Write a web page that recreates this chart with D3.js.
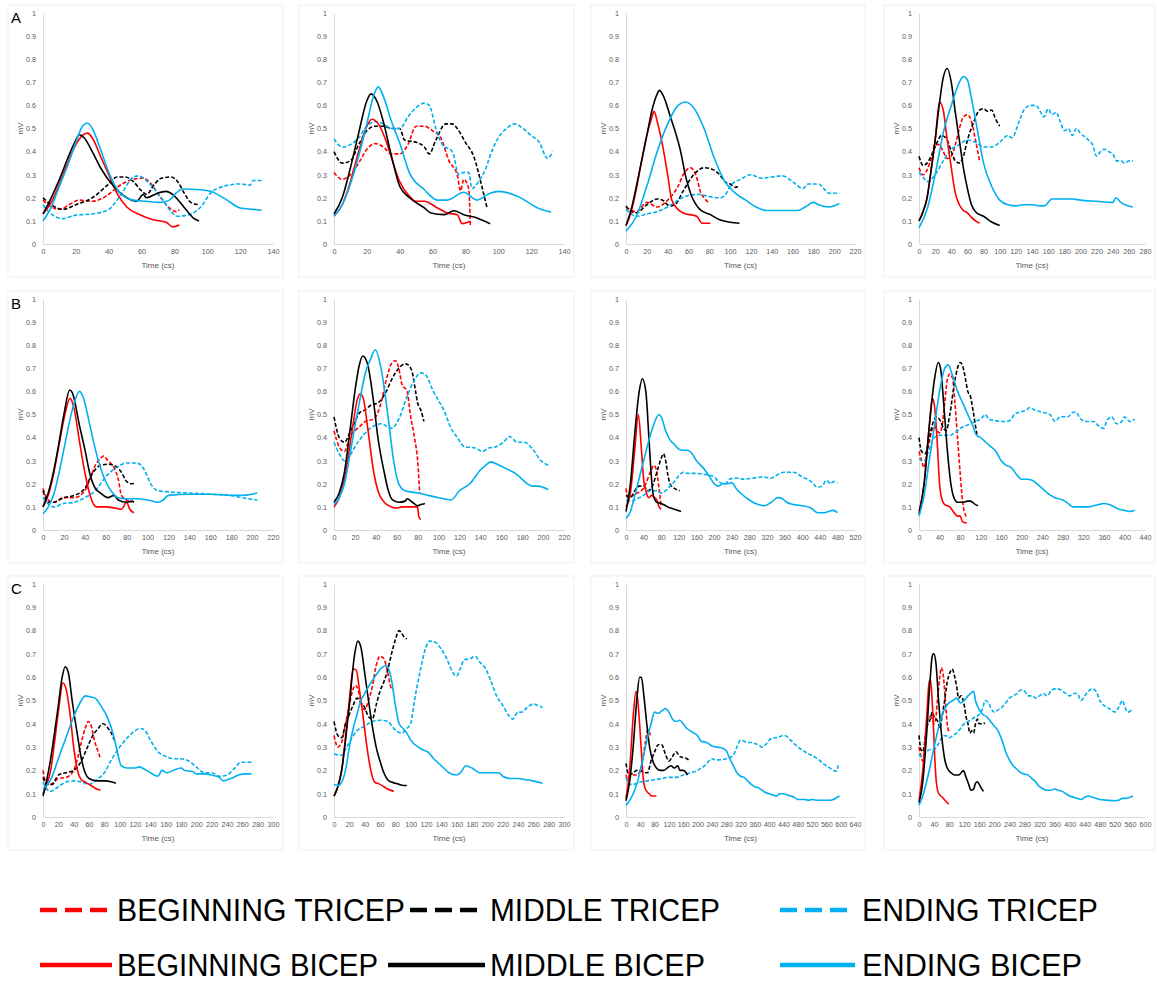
<!DOCTYPE html>
<html>
<head>
<meta charset="utf-8">
<script src="https://cdn.jsdelivr.net/npm/d3@7/dist/d3.min.js"></script>
<style>
  body { margin: 0; background: #fff; }
  svg { display: block; font-family: Arial, "Liberation Sans", sans-serif; }
</style>
</head>
<body>
<div id="chart"></div>
<script>
// series order: beginning tricep, middle tricep, ending tricep, beginning bicep, middle bicep, ending bicep
const seriesNames = ["BEGINNING TRICEP", "MIDDLE TRICEP", "ENDING TRICEP", "BEGINNING BICEP", "MIDDLE BICEP", "ENDING BICEP"];
const yTicks = [0, 0.1, 0.2, 0.3, 0.4, 0.5, 0.6, 0.7, 0.8, 0.9, 1];
const rowLabels = ["A", "B", "C"];
const xMaxes = [[140, 140, 220, 280], [220, 220, 520, 440], [300, 300, 640, 600]];
const xSteps = [[20, 20, 20, 20], [20, 20, 40, 40], [20, 20, 40, 40]];

// ---- row A ----
const a1BegTri = [[0,0.19],[5,0.16],[10,0.15],[16,0.17],[22,0.19],[30,0.185],[38,0.205],[46,0.25],[55,0.28],[61,0.285],[65,0.267],[71,0.206],[77,0.156],[81,0.14],[83,0.148]];
const a1MidTri = [[0,0.2],[5,0.17],[12,0.15],[20,0.17],[30,0.2],[40,0.26],[45,0.29],[50,0.29],[55,0.27],[60,0.23],[63,0.215],[68,0.26],[72,0.285],[78,0.29],[82,0.27],[86,0.22],[90,0.18],[95,0.17]];
const a1EndTri = [[0,0.17],[5,0.13],[12,0.11],[20,0.125],[30,0.13],[40,0.15],[48,0.22],[55,0.29],[58,0.295],[65,0.26],[72,0.2],[78,0.14],[82,0.12],[90,0.13],[96,0.16],[102,0.22],[110,0.25],[120,0.26],[126,0.255],[128,0.275],[133,0.275]];
const a1BegBi = [[0,0.13],[5,0.18],[10,0.26],[15,0.35],[20,0.43],[24,0.47],[27,0.48],[30,0.46],[35,0.38],[40,0.3],[45,0.22],[51,0.16],[59,0.127],[67,0.105],[75,0.094],[79,0.074],[83,0.082]];
const a1MidBi = [[0,0.13],[5,0.2],[10,0.28],[15,0.37],[20,0.45],[22,0.473],[25,0.46],[30,0.4],[35,0.33],[43,0.25],[51,0.2],[57,0.185],[61,0.214],[63,0.2],[69,0.218],[75,0.228],[79,0.214],[87,0.149],[92,0.11],[95,0.1]];
const a1EndBi = [[0,0.1],[5,0.16],[10,0.25],[15,0.34],[20,0.44],[24,0.51],[27,0.524],[30,0.5],[35,0.41],[40,0.31],[47,0.22],[55,0.19],[63,0.185],[71,0.18],[77,0.19],[81,0.22],[85,0.238],[96,0.235],[102,0.228],[112,0.19],[120,0.156],[128,0.15],[133,0.146]];

const a2BegTri = [[0,0.31],[5,0.28],[10,0.3],[15,0.35],[20,0.41],[25,0.435],[30,0.42],[35,0.39],[40,0.39],[45,0.43],[50,0.51],[55,0.51],[60,0.49],[65,0.46],[70,0.36],[75,0.3],[77,0.23],[79,0.28],[82,0.24],[83,0.08]];
const a2MidTri = [[0,0.4],[5,0.35],[10,0.36],[15,0.43],[20,0.49],[25,0.51],[30,0.51],[35,0.5],[40,0.5],[43,0.45],[50,0.44],[55,0.42],[58,0.39],[62,0.45],[68,0.52],[72,0.52],[75,0.5],[80,0.44],[85,0.38],[90,0.25],[93,0.16]];
const a2EndTri = [[0,0.455],[5,0.42],[10,0.43],[15,0.46],[20,0.51],[25,0.53],[30,0.52],[35,0.5],[40,0.5],[45,0.55],[50,0.59],[55,0.61],[58,0.6],[62,0.5],[66,0.43],[72,0.4],[76,0.3],[79,0.31],[82,0.31],[84,0.24],[88,0.27],[92,0.32],[96,0.4],[100,0.46],[105,0.5],[110,0.52],[115,0.5],[120,0.47],[125,0.44],[130,0.37],[133,0.4]];
const a2BegBi = [[0,0.12],[5,0.17],[10,0.27],[15,0.4],[20,0.51],[23,0.54],[27,0.52],[32,0.44],[36,0.35],[40,0.27],[46,0.206],[50,0.185],[55,0.185],[63,0.156],[69,0.134],[75,0.127],[78,0.088],[83,0.098]];
const a2MidBi = [[0,0.13],[5,0.2],[10,0.33],[15,0.48],[20,0.62],[22.5,0.65],[26,0.62],[30,0.53],[35,0.38],[40,0.25],[46,0.2],[55,0.156],[59,0.134],[67,0.127],[73,0.144],[79,0.127],[87,0.113],[95,0.088]];
const a2EndBi = [[0,0.12],[5,0.17],[10,0.26],[15,0.38],[20,0.52],[24,0.64],[27,0.68],[30,0.64],[35,0.53],[40,0.437],[46,0.307],[55,0.235],[63,0.19],[69,0.19],[79,0.224],[87,0.19],[95,0.22],[100,0.228],[112,0.206],[124,0.156],[132,0.138]];

const a3BegTri = [[0,0.16],[10,0.14],[20,0.18],[30,0.16],[40,0.19],[50,0.25],[55,0.3],[62,0.33],[67,0.3],[72,0.22],[75,0.2],[80,0.175]];
const a3MidTri = [[0,0.165],[5,0.14],[10,0.135],[20,0.17],[30,0.195],[35,0.19],[42,0.165],[47,0.17],[55,0.23],[65,0.3],[75,0.33],[82,0.325],[90,0.3],[95,0.27],[100,0.26],[105,0.245],[108,0.25]];
const a3EndTri = [[0,0.15],[10,0.12],[20,0.13],[30,0.14],[40,0.16],[50,0.19],[60,0.21],[70,0.215],[80,0.205],[90,0.2],[95,0.21],[100,0.25],[110,0.28],[120,0.3],[130,0.285],[140,0.29],[150,0.295],[160,0.27],[170,0.24],[175,0.26],[185,0.26],[190,0.24],[195,0.22],[205,0.22]];
const a3BegBi = [[0,0.08],[5,0.14],[10,0.24],[15,0.36],[20,0.47],[25,0.55],[27,0.575],[30,0.53],[35,0.43],[40,0.3],[44,0.19],[50,0.15],[55,0.134],[68,0.12],[73,0.09],[81,0.09]];
const a3MidBi = [[0,0.08],[5,0.15],[10,0.25],[15,0.36],[20,0.47],[25,0.58],[30,0.65],[32,0.665],[36,0.64],[42,0.56],[52,0.41],[58,0.28],[62,0.22],[71,0.15],[81,0.127],[90,0.105],[100,0.094],[109,0.09]];
const a3EndBi = [[0,0.055],[10,0.12],[20,0.25],[30,0.4],[40,0.52],[50,0.6],[57,0.615],[65,0.59],[75,0.5],[85,0.37],[95,0.27],[105,0.22],[115,0.19],[125,0.16],[135,0.145],[150,0.145],[165,0.145],[172,0.16],[180,0.18],[185,0.17],[195,0.16],[205,0.175]];

const a4BegTri = [[0,0.33],[5,0.3],[10,0.32],[15,0.37],[20,0.43],[25,0.43],[30,0.4],[35,0.37],[40,0.38],[45,0.43],[50,0.5],[55,0.55],[60,0.56],[65,0.53],[70,0.45],[75,0.36]];
const a4MidTri = [[0,0.38],[5,0.34],[10,0.35],[15,0.38],[20,0.42],[28,0.47],[35,0.45],[40,0.4],[45,0.36],[50,0.35],[55,0.38],[60,0.45],[68,0.53],[75,0.58],[80,0.585],[85,0.575],[90,0.58],[95,0.54],[100,0.51]];
const a4EndTri = [[0,0.31],[5,0.29],[10,0.27],[20,0.3],[30,0.36],[40,0.41],[50,0.43],[60,0.45],[70,0.44],[80,0.42],[90,0.42],[100,0.44],[110,0.47],[115,0.46],[125,0.54],[130,0.58],[138,0.6],[145,0.6],[150,0.575],[155,0.55],[160,0.585],[165,0.56],[170,0.57],[175,0.53],[180,0.49],[185,0.5],[190,0.47],[195,0.5],[200,0.48],[210,0.45],[215,0.43],[220,0.38],[225,0.4],[230,0.41],[235,0.4],[240,0.39],[245,0.36],[250,0.36],[255,0.35],[260,0.36],[265,0.36]];
const a4BegBi = [[0,0.1],[5,0.14],[10,0.2],[15,0.32],[20,0.45],[25.5,0.615],[30,0.58],[35,0.45],[40,0.33],[45,0.22],[50,0.17],[55,0.145],[60,0.135],[65,0.115],[70,0.1],[75,0.09]];
const a4MidBi = [[0,0.1],[5,0.14],[10,0.2],[15,0.32],[20,0.45],[25,0.6],[30,0.72],[35,0.76],[40,0.7],[45,0.57],[50,0.45],[55,0.33],[60,0.24],[65,0.17],[70,0.14],[80,0.12],[90,0.095],[100,0.08]];
const a4EndBi = [[0,0.07],[10,0.15],[20,0.3],[30,0.48],[40,0.6],[50,0.7],[55,0.725],[60,0.71],[65,0.63],[72,0.5],[80,0.35],[90,0.25],[100,0.19],[110,0.17],[120,0.165],[130,0.17],[140,0.17],[150,0.165],[155,0.165],[165,0.195],[175,0.195],[190,0.195],[200,0.19],[220,0.185],[240,0.18],[244,0.2],[250,0.18],[265,0.16]];

// ---- row B ----
const b1BegTri = [[0,0.18],[5,0.13],[10,0.12],[20,0.14],[30,0.14],[40,0.17],[45,0.22],[50,0.28],[55,0.31],[58,0.32],[62,0.3],[68,0.27],[72,0.22],[75,0.15],[80,0.13],[85,0.12]];
const b1MidTri = [[0,0.17],[5,0.12],[10,0.12],[20,0.14],[30,0.15],[40,0.18],[48,0.25],[55,0.28],[62,0.285],[70,0.275],[75,0.25],[80,0.21],[85,0.2],[88,0.206]];
const b1EndTri = [[0,0.14],[10,0.1],[20,0.115],[30,0.12],[40,0.14],[50,0.17],[60,0.23],[70,0.27],[80,0.29],[90,0.29],[97,0.26],[103,0.2],[110,0.17],[120,0.165],[140,0.16],[160,0.155],[180,0.15],[190,0.14],[205,0.13]];
const b1BegBi = [[0,0.1],[5,0.15],[10,0.24],[15,0.36],[20,0.48],[26,0.57],[30,0.52],[35,0.38],[40,0.25],[45,0.15],[51,0.1],[60,0.1],[70,0.094],[75,0.09],[80,0.12],[83,0.09],[87,0.075]];
const b1MidBi = [[0,0.1],[5,0.16],[10,0.25],[15,0.37],[20,0.5],[25.6,0.606],[28,0.595],[35,0.45],[40,0.35],[45,0.24],[50,0.18],[55,0.16],[62,0.14],[68,0.15],[72,0.13],[80,0.12],[85,0.125],[87,0.12]];
const b1EndBi = [[0,0.07],[5,0.1],[10,0.15],[15,0.24],[20,0.35],[28,0.52],[35,0.6],[38,0.58],[45,0.45],[50,0.35],[55,0.27],[60,0.21],[65,0.17],[72,0.14],[80,0.135],[90,0.135],[100,0.13],[110,0.12],[115,0.13],[120,0.15],[140,0.155],[160,0.155],[180,0.15],[190,0.15],[200,0.155],[205,0.16]];

const b2BegTri = [[0,0.43],[5,0.36],[10,0.34],[15,0.4],[20,0.43],[25,0.45],[30,0.47],[38,0.48],[45,0.55],[50,0.65],[55,0.72],[58.8,0.733],[62,0.7],[65,0.63],[70,0.6],[73,0.5],[77,0.4],[80,0.3],[82,0.16]];
const b2MidTri = [[0,0.49],[5,0.4],[10,0.38],[15,0.42],[20,0.47],[25,0.51],[30,0.52],[35,0.54],[42,0.55],[50,0.6],[55,0.65],[62,0.7],[68,0.72],[72,0.71],[75,0.68],[78,0.6],[80,0.55],[83,0.52],[86,0.47]];
const b2EndTri = [[0,0.38],[5,0.33],[10,0.3],[15,0.32],[20,0.36],[30,0.42],[38,0.45],[45,0.46],[55,0.44],[62,0.48],[70,0.58],[77,0.65],[83,0.68],[88,0.67],[95,0.6],[100,0.56],[105,0.52],[112,0.44],[118,0.4],[125,0.36],[135,0.355],[142,0.34],[148,0.355],[155,0.36],[162,0.38],[168,0.405],[175,0.38],[182,0.38],[190,0.35],[198,0.3],[205,0.28]];
const b2BegBi = [[0,0.1],[5,0.14],[10,0.22],[14,0.33],[18,0.45],[22,0.56],[25,0.59],[28,0.57],[32,0.45],[38,0.25],[42,0.17],[48,0.12],[55,0.1],[60,0.095],[65,0.1],[70,0.1],[75,0.1],[80,0.1],[81,0.06],[83,0.045]];
const b2MidBi = [[0,0.12],[5,0.16],[10,0.25],[15,0.42],[20,0.6],[24,0.71],[27.5,0.753],[32,0.72],[38,0.55],[42,0.4],[48,0.25],[52,0.17],[56,0.13],[62,0.12],[68,0.125],[70,0.135],[75,0.12],[80,0.105],[83,0.11],[87,0.115]];
const b2EndBi = [[0,0.11],[5,0.14],[10,0.2],[15,0.32],[20,0.45],[25,0.57],[30,0.68],[35,0.74],[39.5,0.78],[45,0.7],[52,0.48],[57,0.3],[62,0.2],[68,0.17],[80,0.16],[90,0.15],[100,0.14],[112,0.13],[120,0.17],[130,0.2],[140,0.26],[145,0.28],[150,0.295],[158,0.28],[165,0.265],[175,0.24],[185,0.2],[190,0.19],[195,0.19],[205,0.175]];

const b3BegTri = [[0,0.18],[5,0.14],[15,0.15],[25,0.16],[35,0.17],[45,0.2],[55,0.25],[64,0.28],[70,0.25],[75,0.18],[80,0.1]];
const b3MidTri = [[0,0.15],[10,0.14],[20,0.17],[30,0.19],[40,0.19],[50,0.17],[60,0.19],[70,0.25],[80,0.31],[85,0.33],[90,0.3],[95,0.24],[100,0.2],[110,0.18],[122,0.17]];
const b3EndTri = [[0,0.13],[10,0.125],[20,0.13],[30,0.14],[40,0.15],[55,0.17],[70,0.17],[80,0.16],[90,0.17],[100,0.19],[110,0.21],[120,0.235],[130,0.25],[140,0.245],[160,0.245],[180,0.24],[200,0.23],[210,0.21],[225,0.2],[235,0.22],[250,0.225],[270,0.22],[290,0.225],[310,0.23],[330,0.225],[345,0.24],[360,0.25],[380,0.25],[400,0.23],[420,0.21],[435,0.185],[445,0.19],[455,0.215],[465,0.2],[470,0.21],[480,0.205]];
const b3BegBi = [[0,0.1],[10,0.16],[20,0.35],[28,0.5],[35,0.35],[40,0.22],[45,0.17],[52,0.14],[58,0.15],[65,0.14],[70,0.13],[75,0.1],[80,0.09]];
const b3MidBi = [[0,0.08],[10,0.2],[20,0.42],[30,0.6],[37,0.655],[45,0.6],[52,0.4],[58,0.22],[62,0.15],[70,0.12],[80,0.115],[95,0.1],[110,0.09],[125,0.08]];
const b3EndBi = [[0,0.05],[10,0.08],[20,0.15],[40,0.3],[60,0.44],[75,0.5],[80,0.49],[90,0.43],[100,0.39],[110,0.37],[120,0.35],[130,0.345],[140,0.345],[150,0.33],[160,0.3],[175,0.27],[190,0.23],[200,0.2],[210,0.19],[220,0.2],[230,0.2],[240,0.205],[250,0.18],[260,0.16],[280,0.13],[300,0.11],[315,0.105],[330,0.12],[345,0.14],[355,0.135],[365,0.12],[380,0.11],[400,0.105],[420,0.095],[435,0.075],[450,0.075],[460,0.08],[470,0.085],[480,0.075]];

const b4BegTri = [[0,0.34],[5,0.3],[10,0.27],[15,0.33],[20,0.38],[25,0.43],[30,0.45],[35,0.43],[40,0.42],[45,0.45],[50,0.55],[55,0.65],[60,0.675],[65,0.66],[70,0.55],[75,0.4],[80,0.25],[85,0.12],[92,0.058]];
const b4MidTri = [[0,0.4],[5,0.34],[12,0.33],[20,0.4],[28,0.47],[35,0.49],[42,0.47],[48,0.44],[53,0.43],[60,0.5],[70,0.65],[80,0.725],[85,0.71],[90,0.66],[95,0.6],[100,0.58],[105,0.52],[110,0.45],[113,0.41]];
const b4EndTri = [[0,0.31],[5,0.3],[10,0.3],[20,0.35],[30,0.4],[40,0.41],[50,0.41],[60,0.41],[70,0.42],[80,0.44],[90,0.45],[100,0.46],[110,0.47],[120,0.48],[130,0.5],[135,0.48],[145,0.475],[160,0.47],[170,0.47],[180,0.48],[185,0.5],[195,0.51],[210,0.52],[215,0.53],[225,0.52],[240,0.51],[255,0.5],[265,0.47],[275,0.49],[290,0.49],[300,0.51],[305,0.51],[315,0.48],[325,0.47],[340,0.47],[350,0.45],[360,0.44],[365,0.47],[375,0.49],[385,0.46],[395,0.47],[400,0.49],[405,0.48],[410,0.47],[420,0.48]];
const b4BegBi = [[0,0.08],[10,0.2],[20,0.45],[26,0.57],[30,0.54],[35,0.4],[40,0.2],[45,0.13],[50,0.11],[60,0.1],[70,0.07],[75,0.06],[80,0.06],[85,0.035],[93,0.03]];
const b4MidBi = [[0,0.07],[10,0.2],[20,0.45],[30,0.65],[37.6,0.725],[42,0.7],[48,0.55],[55,0.35],[62,0.2],[68,0.14],[75,0.12],[85,0.12],[95,0.125],[100,0.125],[110,0.11],[115,0.105]];
const b4EndBi = [[0,0.06],[10,0.15],[20,0.3],[30,0.45],[40,0.6],[50,0.7],[57,0.715],[65,0.67],[75,0.6],[85,0.55],[95,0.5],[105,0.45],[112,0.41],[120,0.4],[130,0.38],[140,0.36],[150,0.34],[160,0.3],[170,0.28],[180,0.27],[190,0.24],[200,0.22],[210,0.22],[220,0.215],[230,0.2],[240,0.18],[250,0.16],[265,0.14],[280,0.13],[290,0.115],[300,0.1],[320,0.1],[330,0.1],[340,0.105],[350,0.11],[360,0.115],[370,0.11],[380,0.1],[390,0.09],[400,0.085],[410,0.08],[420,0.085]];

// ---- row C ----
const c1BegTri = [[0,0.2],[5,0.14],[10,0.14],[20,0.165],[30,0.17],[40,0.2],[45,0.25],[50,0.32],[55,0.38],[59,0.41],[63,0.39],[67,0.33],[72,0.28],[75,0.25]];
const c1MidTri = [[0,0.17],[5,0.14],[12,0.14],[20,0.18],[30,0.19],[40,0.2],[50,0.24],[58,0.3],[65,0.35],[72,0.38],[78,0.4],[83,0.39],[87,0.37],[90,0.355],[93,0.33]];
const c1EndTri = [[0,0.15],[5,0.12],[10,0.11],[20,0.13],[30,0.15],[40,0.155],[50,0.15],[60,0.14],[70,0.16],[80,0.19],[90,0.25],[100,0.3],[110,0.34],[120,0.37],[127,0.38],[132,0.375],[140,0.33],[150,0.28],[160,0.26],[170,0.25],[180,0.25],[190,0.24],[200,0.215],[210,0.19],[220,0.19],[230,0.175],[240,0.18],[250,0.21],[258,0.235],[265,0.235],[272,0.235]];
const c1BegBi = [[0,0.1],[5,0.14],[10,0.2],[15,0.32],[20,0.45],[26,0.575],[30,0.55],[35,0.45],[40,0.3],[45,0.2],[50,0.16],[55,0.15],[60,0.14],[65,0.13],[70,0.12],[75,0.115]];
const c1MidBi = [[0,0.09],[5,0.16],[10,0.25],[15,0.36],[20,0.48],[25,0.6],[29,0.645],[33,0.62],[38,0.5],[45,0.35],[50,0.25],[55,0.19],[60,0.165],[70,0.155],[80,0.155],[90,0.15],[95,0.145]];
const c1EndBi = [[0,0.12],[10,0.16],[20,0.25],[30,0.34],[40,0.43],[50,0.5],[55,0.52],[62,0.515],[68,0.51],[75,0.48],[85,0.42],[92,0.35],[97,0.28],[102,0.22],[110,0.21],[120,0.21],[125,0.215],[135,0.2],[145,0.18],[150,0.175],[155,0.2],[162,0.19],[170,0.2],[180,0.21],[185,0.2],[195,0.195],[200,0.185],[210,0.185],[220,0.18],[230,0.17],[235,0.155],[245,0.165],[255,0.18],[265,0.185],[272,0.185]];

const c2BegTri = [[0,0.35],[5,0.3],[10,0.32],[15,0.4],[20,0.48],[25,0.55],[28,0.565],[32,0.54],[36,0.48],[40,0.46],[45,0.5],[50,0.56],[55,0.65],[60,0.69],[65,0.68],[70,0.62],[75,0.55],[77,0.545]];
const c2MidTri = [[0,0.41],[5,0.35],[10,0.34],[15,0.4],[20,0.44],[25,0.48],[30,0.51],[35,0.49],[40,0.47],[45,0.43],[50,0.42],[55,0.48],[60,0.54],[65,0.58],[70,0.63],[75,0.7],[80,0.76],[85,0.8],[88,0.79],[92,0.77],[95,0.765]];
const c2EndTri = [[0,0.27],[10,0.265],[15,0.29],[20,0.32],[30,0.37],[40,0.39],[50,0.41],[60,0.415],[70,0.41],[78,0.38],[88,0.36],[95,0.38],[100,0.4],[105,0.5],[112,0.62],[120,0.73],[125,0.755],[132,0.75],[140,0.72],[147,0.68],[155,0.62],[160,0.605],[165,0.64],[170,0.675],[178,0.68],[184,0.69],[190,0.665],[198,0.635],[205,0.58],[212,0.52],[220,0.48],[228,0.435],[233,0.42],[240,0.45],[245,0.45],[252,0.47],[260,0.485],[265,0.48],[272,0.47]];
const c2BegBi = [[0,0.09],[5,0.13],[10,0.2],[15,0.34],[20,0.5],[25,0.635],[29,0.63],[33,0.55],[38,0.43],[43,0.3],[48,0.2],[53,0.15],[60,0.14],[65,0.13],[70,0.12],[78,0.11]];
const c2MidBi = [[0,0.09],[5,0.13],[10,0.2],[15,0.33],[20,0.48],[27,0.7],[31,0.755],[35,0.73],[40,0.62],[45,0.5],[50,0.39],[55,0.3],[60,0.24],[65,0.19],[70,0.16],[75,0.15],[80,0.145],[85,0.14],[90,0.135],[95,0.135]];
const c2EndBi = [[0,0.14],[5,0.135],[10,0.15],[15,0.2],[20,0.3],[25,0.38],[30,0.44],[35,0.5],[40,0.53],[45,0.56],[55,0.61],[62,0.64],[68,0.65],[72,0.63],[76,0.57],[80,0.48],[85,0.4],[90,0.38],[95,0.36],[100,0.33],[110,0.3],[118,0.285],[122,0.28],[130,0.25],[140,0.22],[150,0.19],[160,0.18],[165,0.19],[172,0.22],[180,0.21],[190,0.19],[200,0.19],[210,0.19],[215,0.19],[220,0.175],[230,0.165],[240,0.165],[250,0.16],[260,0.155],[272,0.145]];

const c3BegTri = [[0,0.18],[5,0.16],[10,0.17],[20,0.18],[30,0.18],[40,0.2],[45,0.23],[50,0.28],[55,0.33],[60,0.37],[63,0.373],[68,0.35]];
const c3MidTri = [[0,0.23],[5,0.19],[10,0.18],[20,0.19],[30,0.2],[40,0.2],[50,0.19],[60,0.19],[70,0.24],[80,0.28],[90,0.31],[100,0.31],[110,0.27],[120,0.24],[130,0.26],[140,0.28],[150,0.26],[160,0.255],[170,0.25],[175,0.245]];
const c3EndTri = [[0,0.17],[10,0.14],[20,0.14],[40,0.15],[60,0.155],[80,0.16],[100,0.165],[120,0.17],[140,0.17],[160,0.18],[180,0.19],[200,0.2],[220,0.22],[240,0.25],[250,0.245],[260,0.245],[280,0.25],[290,0.255],[300,0.265],[310,0.3],[320,0.33],[330,0.325],[340,0.32],[350,0.32],[360,0.315],[370,0.31],[380,0.3],[390,0.31],[400,0.33],[410,0.34],[420,0.34],[430,0.345],[440,0.35],[450,0.345],[460,0.33],[470,0.315],[480,0.3],[490,0.29],[500,0.28],[510,0.27],[520,0.265],[530,0.255],[540,0.245],[550,0.23],[560,0.22],[570,0.21],[580,0.2],[588,0.197],[593,0.222]];
const c3BegBi = [[0,0.08],[10,0.2],[20,0.43],[28,0.54],[33,0.5],[38,0.4],[43,0.28],[48,0.17],[52,0.13],[58,0.11],[65,0.1],[72,0.09],[80,0.09],[85,0.09]];
const c3MidBi = [[0,0.07],[10,0.15],[20,0.3],[30,0.5],[38,0.6],[43,0.6],[50,0.52],[58,0.4],[66,0.3],[75,0.24],[85,0.21],[95,0.2],[105,0.2],[115,0.21],[125,0.22],[135,0.21],[145,0.22],[150,0.2],[160,0.2],[172,0.18]];
const c3EndBi = [[0,0.05],[10,0.07],[20,0.1],[30,0.14],[40,0.2],[50,0.27],[60,0.34],[70,0.4],[80,0.45],[90,0.445],[100,0.455],[110,0.465],[120,0.45],[130,0.42],[140,0.41],[150,0.415],[160,0.4],[170,0.38],[180,0.37],[190,0.36],[200,0.35],[210,0.325],[225,0.32],[240,0.305],[255,0.3],[270,0.295],[280,0.285],[290,0.25],[300,0.22],[310,0.19],[320,0.175],[330,0.17],[340,0.155],[350,0.14],[360,0.13],[370,0.125],[380,0.115],[390,0.105],[400,0.1],[410,0.095],[420,0.09],[430,0.1],[440,0.1],[450,0.095],[460,0.09],[470,0.085],[480,0.075],[490,0.075],[500,0.075],[510,0.072],[520,0.075],[530,0.073],[540,0.072],[550,0.072],[560,0.072],[570,0.072],[580,0.075],[590,0.085],[597,0.09]];

const c4BegTri = [[0,0.3],[5,0.26],[10,0.24],[15,0.3],[20,0.38],[25,0.43],[30,0.43],[35,0.42],[40,0.4],[45,0.43],[50,0.52],[55,0.6],[59,0.64],[65,0.6],[70,0.5],[75,0.4],[80,0.363]];
const c4MidTri = [[0,0.35],[5,0.29],[10,0.28],[15,0.32],[20,0.38],[30,0.42],[35,0.45],[40,0.43],[50,0.41],[55,0.38],[60,0.42],[68,0.5],[75,0.58],[82,0.62],[88,0.635],[95,0.6],[100,0.56],[105,0.51],[112,0.52],[120,0.48],[125,0.43],[130,0.4],[135,0.36],[140,0.37],[145,0.36],[150,0.4],[155,0.42],[160,0.4],[165,0.4],[175,0.403]];
const c4EndTri = [[0,0.27],[5,0.26],[10,0.26],[20,0.28],[30,0.29],[40,0.29],[50,0.31],[60,0.34],[70,0.35],[80,0.34],[90,0.35],[100,0.36],[110,0.38],[120,0.4],[130,0.41],[140,0.42],[150,0.43],[160,0.44],[170,0.47],[175,0.5],[185,0.49],[190,0.47],[200,0.45],[210,0.46],[220,0.47],[230,0.49],[240,0.51],[250,0.52],[260,0.53],[270,0.545],[280,0.54],[290,0.52],[300,0.52],[310,0.51],[320,0.52],[330,0.53],[340,0.52],[350,0.54],[360,0.55],[370,0.55],[380,0.54],[390,0.53],[400,0.52],[410,0.53],[420,0.53],[430,0.5],[440,0.52],[450,0.54],[460,0.55],[470,0.54],[480,0.5],[490,0.48],[500,0.47],[510,0.46],[520,0.45],[530,0.47],[540,0.5],[545,0.48],[550,0.46],[555,0.45],[565,0.46]];
const c4BegBi = [[0,0.07],[10,0.2],[20,0.42],[27,0.58],[30,0.59],[33,0.55],[38,0.4],[42,0.25],[46,0.15],[50,0.11],[55,0.095],[62,0.085],[70,0.07],[79,0.055]];
const c4MidBi = [[0,0.06],[10,0.15],[20,0.35],[30,0.6],[35,0.69],[39,0.702],[45,0.66],[52,0.5],[60,0.35],[68,0.25],[75,0.21],[85,0.19],[95,0.18],[105,0.18],[112,0.19],[118,0.199],[125,0.17],[132,0.14],[138,0.115],[145,0.12],[150,0.145],[155,0.151],[160,0.14],[165,0.125],[171,0.11]];
const c4EndBi = [[0,0.05],[10,0.09],[20,0.15],[30,0.22],[40,0.3],[50,0.37],[60,0.43],[70,0.47],[80,0.49],[90,0.5],[100,0.51],[110,0.49],[120,0.5],[130,0.52],[140,0.535],[145,0.54],[150,0.5],[160,0.46],[170,0.44],[180,0.43],[190,0.41],[200,0.39],[210,0.37],[220,0.33],[230,0.28],[240,0.245],[250,0.22],[260,0.205],[270,0.19],[280,0.185],[290,0.18],[300,0.165],[310,0.15],[320,0.13],[330,0.12],[340,0.115],[350,0.115],[360,0.12],[370,0.115],[380,0.11],[390,0.1],[400,0.09],[410,0.085],[420,0.08],[430,0.075],[440,0.085],[450,0.09],[460,0.085],[470,0.08],[480,0.075],[500,0.072],[520,0.07],[530,0.072],[540,0.08],[550,0.08],[560,0.085],[568,0.09]];

const seriesGrid = [
  [[a1BegTri, a1MidTri, a1EndTri, a1BegBi, a1MidBi, a1EndBi],
   [a2BegTri, a2MidTri, a2EndTri, a2BegBi, a2MidBi, a2EndBi],
   [a3BegTri, a3MidTri, a3EndTri, a3BegBi, a3MidBi, a3EndBi],
   [a4BegTri, a4MidTri, a4EndTri, a4BegBi, a4MidBi, a4EndBi]],
  [[b1BegTri, b1MidTri, b1EndTri, b1BegBi, b1MidBi, b1EndBi],
   [b2BegTri, b2MidTri, b2EndTri, b2BegBi, b2MidBi, b2EndBi],
   [b3BegTri, b3MidTri, b3EndTri, b3BegBi, b3MidBi, b3EndBi],
   [b4BegTri, b4MidTri, b4EndTri, b4BegBi, b4MidBi, b4EndBi]],
  [[c1BegTri, c1MidTri, c1EndTri, c1BegBi, c1MidBi, c1EndBi],
   [c2BegTri, c2MidTri, c2EndTri, c2BegBi, c2MidBi, c2EndBi],
   [c3BegTri, c3MidTri, c3EndTri, c3BegBi, c3MidBi, c3EndBi],
   [c4BegTri, c4MidTri, c4EndTri, c4BegBi, c4MidBi, c4EndBi]]
];

// styling
const colors = ["#ff0000", "#000000", "#00b0f0", "#ff0000", "#000000", "#00b0f0"];
const dashed = [true, true, true, false, false, false];
const colX = [[43, 273], [334, 564], [626, 855], [919, 1145]];
const rowY = [[244, 13], [530, 299], [817, 584]];

const W = 1157, H = 986;
const svg = d3.select("#chart").append("svg").attr("width", W).attr("height", H);
svg.append("rect").attr("width", W).attr("height", H).attr("fill", "#fff");

const line = d3.line().curve(d3.curveMonotoneX);

for (let r = 0; r < 3; r++) {
  for (let c = 0; c < 4; c++) {
    const x = d3.scaleLinear().domain([0, xMaxes[r][c]]).range(colX[c]);
    const y = d3.scaleLinear().domain([0, 1]).range(rowY[r]);
    const g = svg.append("g");

    // faint chart-area frame
    g.append("rect")
      .attr("x", colX[c][0] - 35).attr("y", rowY[r][1] - 8)
      .attr("width", colX[c][1] - colX[c][0] + 45)
      .attr("height", rowY[r][0] - rowY[r][1] + 41)
      .attr("fill", "#fff").attr("stroke", "#f0f0f0");

    const xTicks = d3.range(0, xMaxes[r][c] + 1, xSteps[r][c]);
    const xAxis = g.append("g")
      .attr("transform", `translate(0,${rowY[r][0]})`)
      .call(d3.axisBottom(x).tickValues(xTicks).tickSize(0).tickPadding(5).tickFormat(d3.format("d")));
    const yAxis = g.append("g")
      .attr("transform", `translate(${colX[c][0]},0)`)
      .call(d3.axisLeft(y).tickValues(yTicks).tickSize(0).tickPadding(7).tickFormat(d => d3.format("")(+d.toFixed(1))));
    [xAxis, yAxis].forEach(a => {
      a.select(".domain").attr("stroke", "#d9d9d9").attr("stroke-width", 1);
      a.selectAll("text").attr("fill", "#595959").attr("font-size", 7.2);
    });

    g.append("text")
      .attr("x", (colX[c][0] + colX[c][1]) / 2).attr("y", rowY[r][0] + 24)
      .attr("text-anchor", "middle").attr("font-size", 8).attr("fill", "#595959")
      .text("Time (cs)");
    g.append("text")
      .attr("transform", `translate(${colX[c][0] - 20},${(rowY[r][0] + rowY[r][1]) / 2}) rotate(-90)`)
      .attr("text-anchor", "middle").attr("font-size", 8).attr("fill", "#595959")
      .text("mV");

    seriesGrid[r][c].forEach((pts, i) => {
      g.append("path")
        .attr("d", line(pts.map(p => [x(p[0]), y(p[1])])))
        .attr("fill", "none")
        .attr("stroke", colors[i])
        .attr("stroke-width", 1.6)
        .attr("stroke-dasharray", dashed[i] ? "4,2" : null)
        .attr("stroke-linejoin", "round");
    });

    if (c === 0) {
      svg.append("text")
        .attr("x", 11).attr("y", rowY[r][1] + 10)
        .attr("font-size", 15).attr("fill", "#000")
        .text(rowLabels[r]);
    }
  }
}

// legend
const legendItems = [
  {i: 0, x1: 40, x2: 112, tx: 117, tw: 288, y: 910},
  {i: 1, x1: 410, x2: 485, tx: 490, tw: 230, y: 910},
  {i: 2, x1: 780, x2: 855, tx: 862, tw: 236, y: 910},
  {i: 3, x1: 40, x2: 112, tx: 117, tw: 261, y: 965},
  {i: 4, x1: 388, x2: 485, tx: 490, tw: 215, y: 965},
  {i: 5, x1: 780, x2: 855, tx: 862, tw: 220, y: 965}
];
const lg = svg.append("g");
legendItems.forEach(d => {
  lg.append("line")
    .attr("x1", d.x1).attr("x2", d.x2).attr("y1", d.y).attr("y2", d.y)
    .attr("stroke", colors[d.i]).attr("stroke-width", 4.5)
    .attr("stroke-dasharray", dashed[d.i] ? "17,8" : null);
  lg.append("text")
    .attr("x", d.tx).attr("y", d.y + 11)
    .attr("font-size", 31).attr("fill", "#000")
    .attr("textLength", d.tw).attr("lengthAdjust", "spacingAndGlyphs")
    .text(seriesNames[d.i]);
});
</script>
</body>
</html>
